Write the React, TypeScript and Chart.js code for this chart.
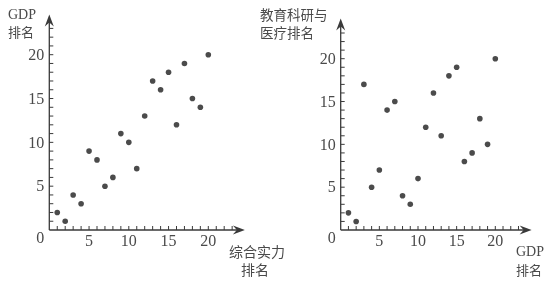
import React, { useEffect, useRef } from 'react';
import { Chart, registerables } from 'chart.js';

Chart.register(...registerables);

// Rank positions 1..20 on the horizontal axis of both panels
const RANKS = [1, 2, 3, 4, 5, 6, 7, 8, 9, 10, 11, 12, 13, 14, 15, 16, 17, 18, 19, 20];
// Left panel: GDP rank for each overall-strength rank
const GDP_RANK = [2, 1, 4, 3, 9, 8, 5, 6, 11, 10, 7, 13, 17, 16, 18, 12, 19, 15, 14, 20];
// Right panel: education/research & healthcare rank for each GDP rank
const EDU_RANK = [2, 1, 17, 5, 7, 14, 15, 4, 3, 6, 12, 16, 11, 18, 19, 8, 9, 13, 10, 20];
// Labelled ticks and minor tick marks
const TICK_LABELS = [5, 10, 15, 20];
const MINOR_TICKS = [1, 2, 3, 4, 5, 6, 7, 8, 9, 10, 11, 12, 13, 14, 15, 16, 17, 18, 19, 20, 21, 22, 23];

const W = 554;
const H = 284;
const INK = '#3a3a3a';
const TEXT = '#4a4a4a';
const SERIF = '"Liberation Serif", "DejaVu Serif", serif';
const CJK = '"Noto Sans CJK SC", sans-serif';

type TitleLine = { text: string; x: number; y: number; font: string; align?: CanvasTextAlign };

type AxisOpts = {
  xArrow: number;
  yArrow: number;
  titles: TitleLine[];
};

const axesPlugin = {
  id: 'rankAxes',
  beforeDatasetsDraw(chart: Chart, _args: unknown, opts: AxisOpts) {
    const ctx = chart.ctx;
    const xs = chart.scales.x;
    const ys = chart.scales.y;
    const x0 = xs.getPixelForValue(0);
    const y0 = ys.getPixelForValue(0);
    const xEnd = xs.getPixelForValue(opts.xArrow);
    const yEnd = ys.getPixelForValue(opts.yArrow);

    ctx.save();
    ctx.strokeStyle = INK;
    ctx.fillStyle = INK;
    ctx.lineWidth = 1.3;

    // axis lines
    ctx.beginPath();
    ctx.moveTo(x0, y0);
    ctx.lineTo(xEnd - 6, y0);
    ctx.moveTo(x0, y0);
    ctx.lineTo(x0, yEnd + 6);
    ctx.stroke();

    // arrow heads
    ctx.beginPath();
    ctx.moveTo(xEnd, y0);
    ctx.lineTo(xEnd - 12, y0 - 4.5);
    ctx.lineTo(xEnd - 8, y0);
    ctx.lineTo(xEnd - 12, y0 + 4.5);
    ctx.closePath();
    ctx.fill();
    ctx.beginPath();
    ctx.moveTo(x0, yEnd);
    ctx.lineTo(x0 - 4.5, yEnd + 12);
    ctx.lineTo(x0, yEnd + 8);
    ctx.lineTo(x0 + 4.5, yEnd + 12);
    ctx.closePath();
    ctx.fill();

    // minor tick marks on the inner side of each axis
    ctx.lineWidth = 1;
    ctx.beginPath();
    for (const t of MINOR_TICKS) {
      const px = xs.getPixelForValue(t);
      ctx.moveTo(px, y0);
      ctx.lineTo(px, y0 - 4);
      const py = ys.getPixelForValue(t);
      ctx.moveTo(x0, py);
      ctx.lineTo(x0 + 4, py);
    }
    ctx.stroke();

    // tick labels
    ctx.fillStyle = TEXT;
    ctx.font = `16px ${SERIF}`;
    ctx.textBaseline = 'middle';
    ctx.textAlign = 'center';
    for (const t of TICK_LABELS) {
      ctx.fillText(String(t), xs.getPixelForValue(t), y0 + 12);
    }
    ctx.textAlign = 'right';
    for (const t of TICK_LABELS) {
      ctx.fillText(String(t), x0 - 5, ys.getPixelForValue(t) + 1);
    }
    ctx.textAlign = 'center';
    ctx.fillText('0', x0 - 9, y0 + 9);

    // axis titles
    for (const line of opts.titles) {
      ctx.font = line.font;
      ctx.textAlign = line.align ?? 'left';
      ctx.fillText(line.text, line.x, line.y);
    }
    ctx.restore();
  },
};

type PanelProps = {
  ys: number[];
  padding: { left: number; right: number; top: number; bottom: number };
  axis: AxisOpts;
};

function Panel({ ys, padding, axis }: PanelProps) {
  const ref = useRef<HTMLCanvasElement>(null);

  useEffect(() => {
    if (!ref.current) return;
    const chart = new Chart(ref.current, {
      type: 'scatter',
      data: {
        datasets: [
          {
            data: RANKS.map((r, i) => ({ x: r, y: ys[i] })),
            backgroundColor: '#4b4b4b',
            borderWidth: 0,
            pointRadius: 2.8,
            clip: false,
          },
        ],
      },
      options: {
        responsive: false,
        animation: false,
        devicePixelRatio: 1,
        layout: { padding },
        scales: {
          x: { type: 'linear', min: 0, max: 20, display: false },
          y: { type: 'linear', min: 0, max: 20, display: false },
        },
        plugins: {
          legend: { display: false },
          tooltip: { enabled: false },
          rankAxes: axis,
        } as any,
      },
      plugins: [axesPlugin as any],
    });
    return () => chart.destroy();
  }, [ys, padding, axis]);

  return (
    <canvas
      ref={ref}
      width={W}
      height={H}
      style={{ position: 'absolute', left: 0, top: 0, width: W, height: H }}
    />
  );
}

const LEFT_PADDING = { left: 49.3, right: W - 208.3, top: 54.7, bottom: H - 230 };
const RIGHT_PADDING = { left: 340.7, right: W - 495.3, top: 58.7, bottom: H - 230 };

const LEFT_AXIS: AxisOpts = {
  xArrow: 24.6,
  yArrow: 24.6,
  titles: [
    { text: 'GDP', x: 8, y: 15, font: `14px ${SERIF}` },
    { text: '排名', x: 8, y: 32, font: `13px ${CJK}` },
    { text: '综合实力', x: 229, y: 252, font: `14px ${CJK}` },
    { text: '排名', x: 255, y: 270, font: `14px ${CJK}`, align: 'center' },
  ],
};

const RIGHT_AXIS: AxisOpts = {
  xArrow: 24.7,
  yArrow: 24.7,
  titles: [
    { text: '教育科研与', x: 260, y: 15, font: `13.5px ${CJK}` },
    { text: '医疗排名', x: 260, y: 33, font: `13.5px ${CJK}` },
    { text: 'GDP', x: 516, y: 252, font: `14px ${SERIF}` },
    { text: '排名', x: 516, y: 270, font: `13px ${CJK}` },
  ],
};

export default function App() {
  return (
    <div
      style={{
        position: 'fixed',
        left: 0,
        top: 0,
        width: W,
        height: H,
        background: '#ffffff',
      }}
    >
      <Panel ys={GDP_RANK} padding={LEFT_PADDING} axis={LEFT_AXIS} />
      <Panel ys={EDU_RANK} padding={RIGHT_PADDING} axis={RIGHT_AXIS} />
    </div>
  );
}
